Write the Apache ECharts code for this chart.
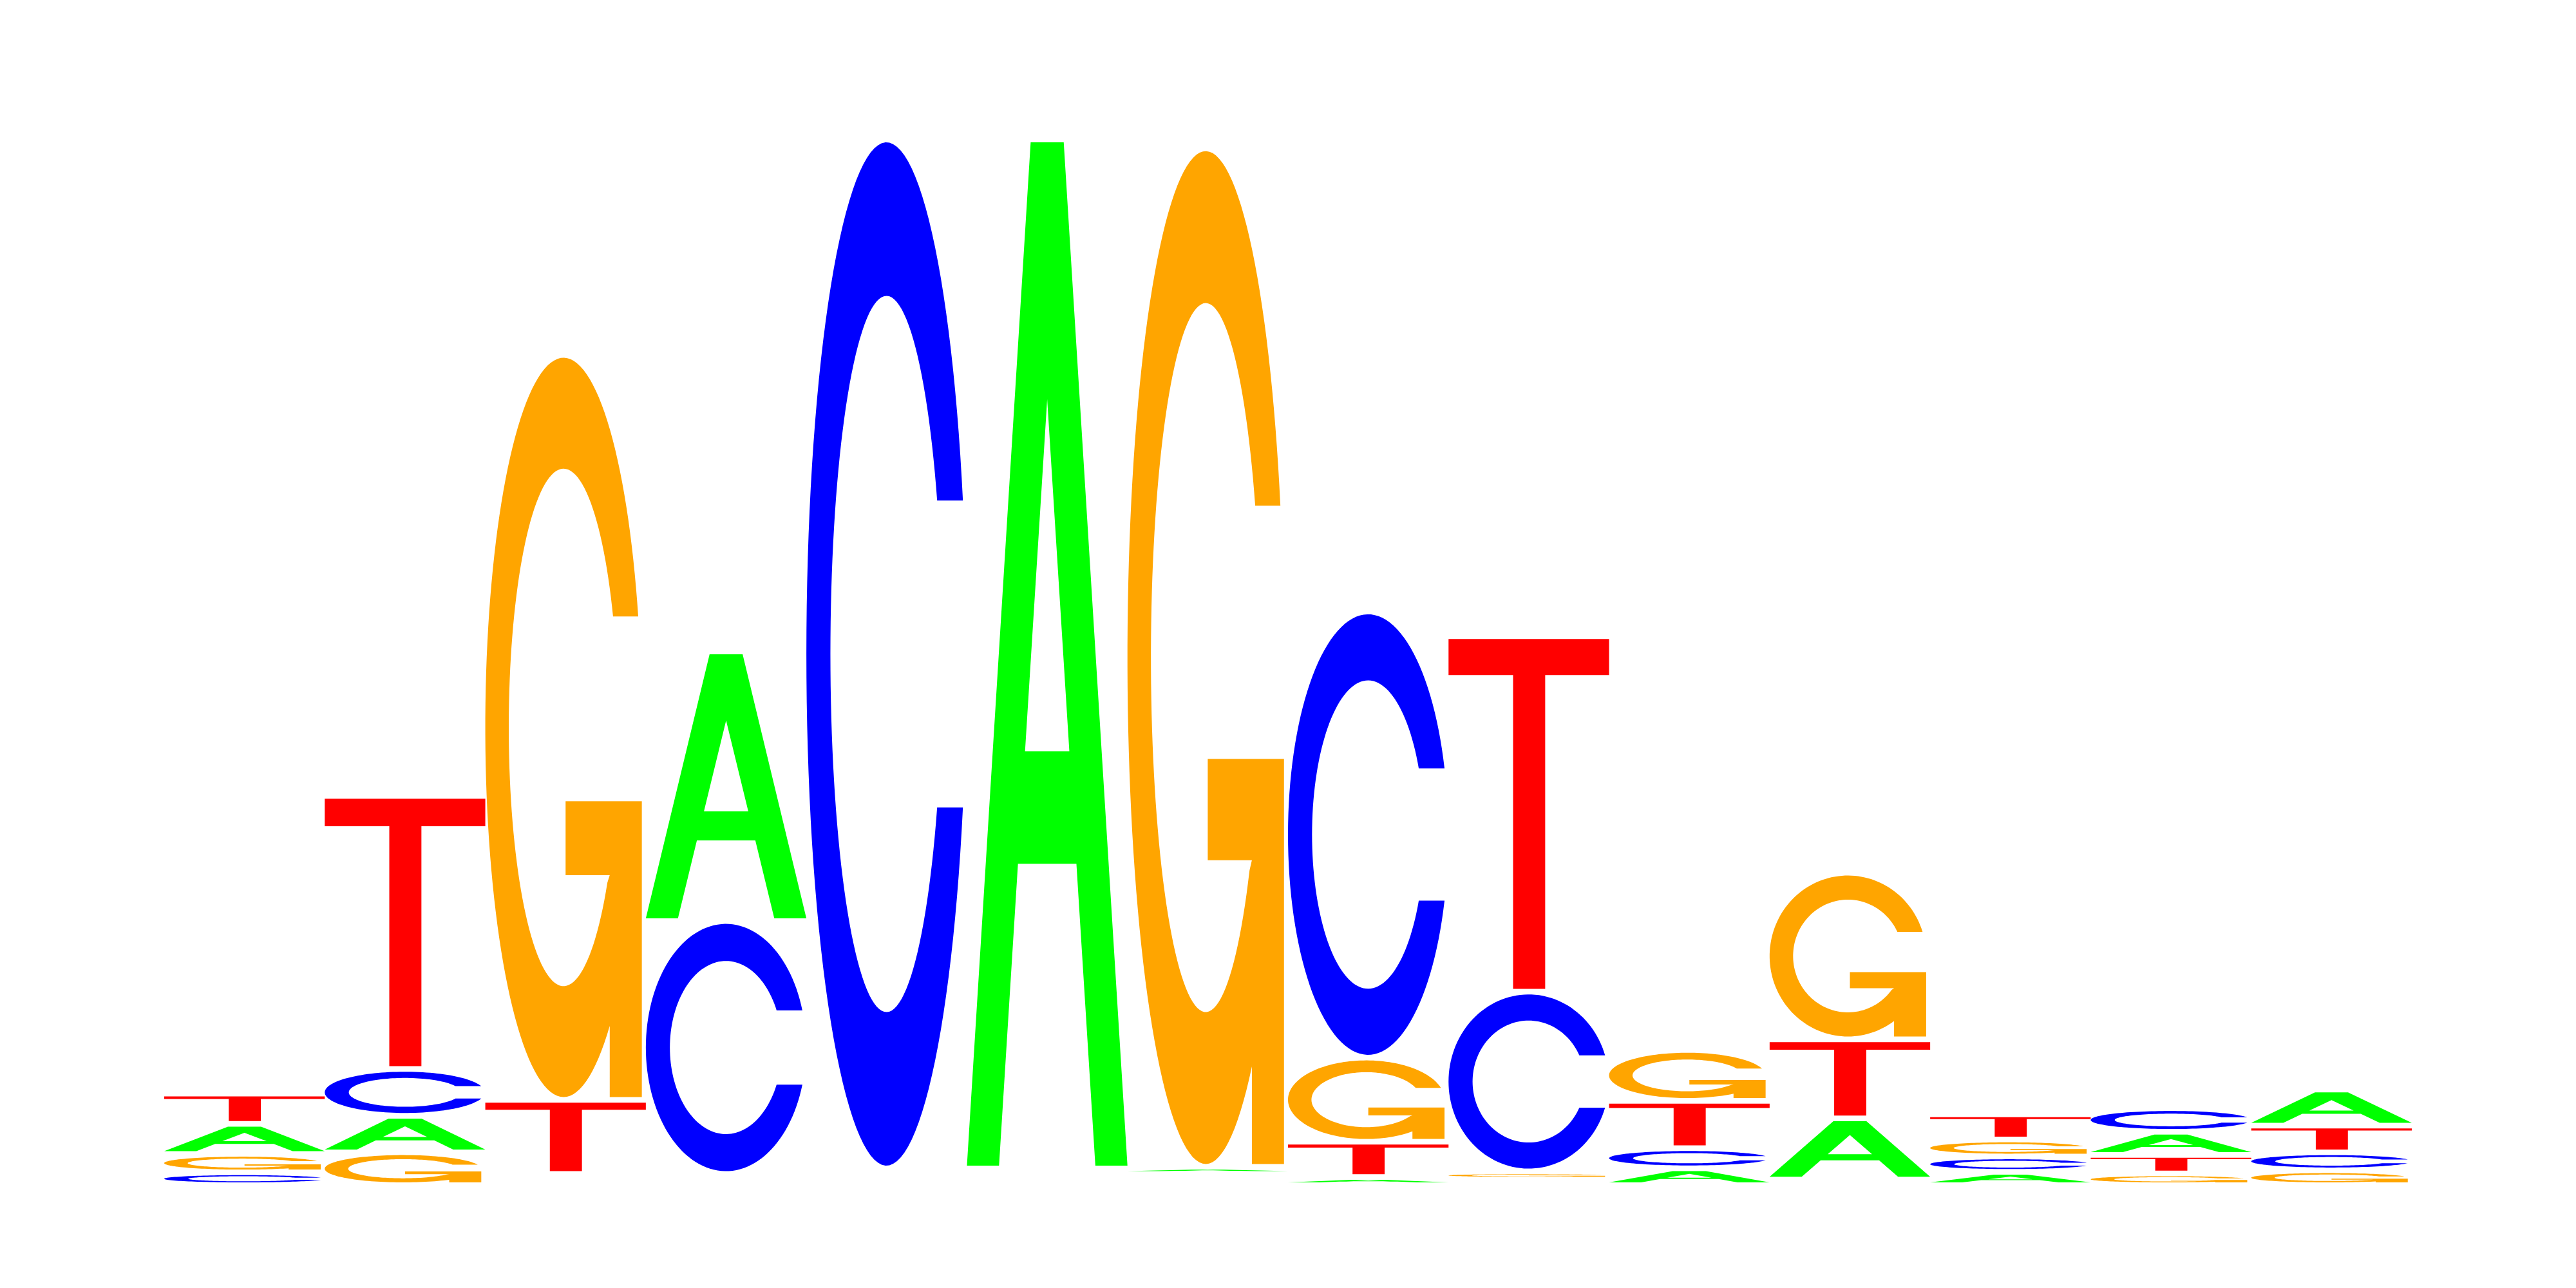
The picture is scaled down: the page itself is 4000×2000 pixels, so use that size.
<!DOCTYPE html>
<html>
<head>
<meta charset="utf-8">
<script src="https://cdn.jsdelivr.net/npm/echarts@6/dist/echarts.min.js"></script>
<style>html,body{margin:0;padding:0;background:#ffffff}#chart{width:4000px;height:2000px}</style>
</head>
<body>
<div id="chart"></div>
<script>
// ---- data (information content per letter, bits) ----
const positions = ['1','2','3','4','5','6','7','8','9','10','11','12','13','14'];
const letters = ['A', 'C', 'G', 'T'];
const letterColors = ['#00FF00', '#0000FF', '#FFA500', '#FF0000'];
const bitsA = [0.0475, 0.060, 0,     0.5125, 0,     1.986, 0.003, 0.005,  0,     0.022, 0.108,  0.015, 0.034, 0.059];
const bitsC = [0.014,  0.080, 0,     0.480,  1.986, 0,     0,     0.855,  0.338, 0.028, 0,      0.019, 0.035, 0.024];
const bitsG = [0.025,  0.053, 1.435, 0,      0,     0,     1.966, 0.1525, 0.005, 0.088, 0.3125, 0.022, 0.012, 0.018];
const bitsT = [0.0476, 0.519, 0.133, 0,      0,     0,     0,     0.0575, 0.679, 0.081, 0.1425, 0.038, 0.025, 0.041];

// ---- glyph outlines (unit box 0..100, y down) ----
function arc(cx, cy, rx, ry, t0, t1, n) {
  const pts = [];
  for (let i = 0; i <= n; i++) {
    const t = t0 + (t1 - t0) * i / n;
    pts.push([cx + rx * Math.cos(t), cy - ry * Math.sin(t)]);
  }
  return pts;
}
function toPath(contours) {
  return contours.map(function (pts) {
    return pts.map(function (p, i) { return (i ? 'L' : 'M') + p[0].toFixed(2) + ',' + p[1].toFixed(2); }).join(' ') + ' Z';
  }).join(' ');
}
const glyphA = 'M0,100 L39.7,0 L60.3,0 L100,100 L80,100 L68.2,70.5 L31.8,70.5 L20,100 Z M36.2,59.5 L63.8,59.5 L50,25.1 Z';
const glyphT = 'M0,0 L100,0 L100,10.3 L60.2,10.3 L60.2,100 L40.2,100 L40.2,10.3 L0,10.3 Z';
const glyphC = (function () {
  const to1 = Math.asin(15 / 50), ti1 = Math.asin(15 / 35);
  const outer = arc(50, 50, 50, 50, to1, 2 * Math.PI - to1, 120);
  const inner = arc(50, 50, 35, 35, 2 * Math.PI - ti1, ti1, 120);
  return toPath([outer.concat(inner)]);
})();
const glyphG = (function () {
  const to1 = Math.asin(15 / 50);
  const toE = 2 * Math.PI - Math.acos(29.5 / 50);
  const outer = arc(50, 50, 50, 50, to1, toE, 120);
  const bar = [[79.5, 100], [100, 100], [100, 60], [51.3, 60], [51.3, 70], [79.5, 70]];
  const tiS = -Math.asin(21 / 35), tiE = -2 * Math.PI + Math.asin(15 / 35);
  const inner = arc(50, 50, 35, 35, tiS, tiE, 120);
  return toPath([outer.concat(bar, inner)]);
})();
const glyphs = [glyphA, glyphC, glyphG, glyphT];

// ---- stacking (ascending height from the baseline) ----
const GAP = 8.7; // pixel gap between stacked letters
const allBits = [bitsA, bitsC, bitsG, bitsT];
const items = [];
positions.forEach(function (p, i) {
  const order = [0, 1, 2, 3].sort(function (a, b) { return allBits[a][i] - allBits[b][i] || a - b; });
  let base = 0;
  order.forEach(function (li, rank) {
    const h = allBits[li][i];
    if (h > 0) items.push([i, base, h, rank, li]);
    base += h;
  });
});

const chart = echarts.init(document.getElementById('chart'), null, { renderer: 'canvas' });
chart.setOption({
  backgroundColor: '#ffffff',
  animation: false,
  grid: { left: 255, right: 255, top: 236, bottom: 164 },
  xAxis: { type: 'category', data: positions, show: false, boundaryGap: true },
  yAxis: { type: 'value', min: 0, max: 2, show: false },
  series: [{
    type: 'custom',
    clip: false,
    data: items,
    encode: { x: 0, y: 1 },
    renderItem: function (params, api) {
      const xi = api.value(0), base = api.value(1), h = api.value(2), rank = api.value(3), li = api.value(4);
      const pb = api.coord([xi, base]);
      const pt = api.coord([xi, base + h]);
      const band = api.size([1, 0])[0];
      const yB = pb[1] - rank * GAP, yT = pt[1] - rank * GAP;
      const wf = (li === 1 || li === 2) ? 0.975 : 1;
      return {
        type: 'path',
        shape: { pathData: glyphs[li], x: pb[0] - band / 2, y: yT, width: band * wf, height: Math.max(yB - yT, 0.5), layout: 'cover' },
        style: { fill: letterColors[li] }
      };
    }
  }]
});
</script>
</body>
</html>
